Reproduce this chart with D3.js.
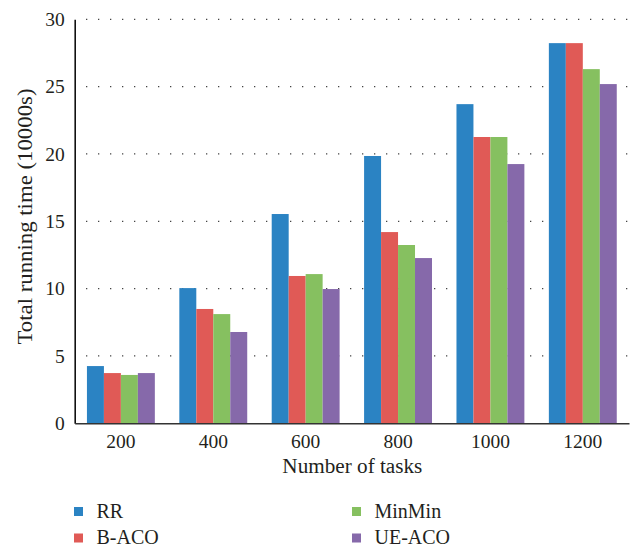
<!DOCTYPE html>
<html>
<head>
<meta charset="utf-8">
<script src="https://cdn.jsdelivr.net/npm/d3@7"></script>
<style>
  html, body { margin: 0; padding: 0; background: #fff; }
  svg { display: block; }
  text { font-family: "Liberation Serif", "DejaVu Serif", serif; fill: #231f20; }
</style>
</head>
<body>
<svg id="chart" width="637" height="549"></svg>
<script>
const categories = ["200", "400", "600", "800", "1000", "1200"];
const seriesNames = ["RR", "B-ACO", "MinMin", "UE-ACO"];
const rrValues     = [4.25, 10.04, 15.54, 19.85, 23.70, 28.23];
const bacoValues   = [3.73, 8.49, 10.94, 14.20, 21.26, 28.23];
const minminValues = [3.59, 8.11, 11.08, 13.24, 21.26, 26.30];
const ueacoValues  = [3.73, 6.78, 9.97, 12.27, 19.25, 25.19];
const yTicks = [0, 5, 10, 15, 20, 25, 30];
const colors = ["#2b83c3", "#e05a56", "#86c060", "#8669aa"];

const seriesValues = [rrValues, bacoValues, minminValues, ueacoValues];

const svg = d3.select("#chart");
const plotLeft = 74.7, plotRight = 629, plotTop = 19.3, plotBottom = 423.3;

const x0 = d3.scaleBand().domain(categories).range([plotLeft, plotRight])
  .paddingInner(0.265).paddingOuter(0.1325);
const x1 = d3.scaleBand().domain(seriesNames).range([0, x0.bandwidth()]);
const y = d3.scaleLinear().domain([0, 30]).range([plotBottom, plotTop]);

// gridlines (dotted)
svg.append("g").selectAll("line").data(yTicks.filter(d => d > 0)).join("line")
  .attr("x1", 86).attr("x2", plotRight)
  .attr("y1", d => y(d)).attr("y2", d => y(d))
  .attr("stroke", "#444").attr("stroke-width", 1.3)
  .attr("stroke-dasharray", "1.3,10.7");

// bars
const groups = svg.append("g").selectAll("g").data(categories).join("g")
  .attr("transform", d => `translate(${x0(d)},0)`);
groups.selectAll("rect")
  .data((c, i) => seriesNames.map((s, j) => ({ s, j, v: seriesValues[j][i] })))
  .join("rect")
  .attr("x", d => x1(d.s))
  .attr("width", x1.bandwidth())
  .attr("y", d => y(d.v))
  .attr("height", d => y(0) - y(d.v))
  .attr("fill", d => colors[d.j]);

// y axis
const yAxis = svg.append("g").attr("transform", `translate(${plotLeft},0)`)
  .call(d3.axisLeft(y).tickValues(yTicks).tickSize(0).tickPadding(10));
yAxis.select(".domain").attr("stroke", "#111").attr("stroke-width", 1.6);
yAxis.selectAll("text").attr("font-size", 19.5).attr("font-family", null).attr("fill", "#231f20");

// x axis
const xAxis = svg.append("g").attr("transform", `translate(0,${plotBottom})`)
  .call(d3.axisBottom(x0).tickSize(0).tickPadding(11));
xAxis.select(".domain").attr("stroke", "#333").attr("stroke-width", 1.6);
xAxis.selectAll("text").attr("font-size", 19.5).attr("font-family", null).attr("fill", "#231f20");

// axis titles
svg.append("text").attr("x", (plotLeft + plotRight) / 2 + 0.5).attr("y", 473)
  .attr("text-anchor", "middle").attr("font-size", 20)
  .attr("textLength", 140).attr("lengthAdjust", "spacingAndGlyphs")
  .text("Number of tasks");
svg.append("text")
  .attr("transform", `translate(32,${(88 + 345) / 2}) rotate(-90)`)
  .attr("text-anchor", "middle").attr("font-size", 20)
  .attr("textLength", 256).attr("lengthAdjust", "spacingAndGlyphs")
  .text("Total running time (10000s)");

// legend
const legendPos = [[74, 511.5], [74, 538], [352, 511.5], [352, 538]];
const legendOrder = [0, 1, 2, 3];
const lg = svg.append("g").selectAll("g").data(legendOrder).join("g")
  .attr("transform", d => `translate(${legendPos[d][0]},${legendPos[d][1]})`);
lg.append("rect").attr("x", 0).attr("y", -4.5).attr("width", 9).attr("height", 9)
  .attr("fill", d => colors[d]);
lg.append("text").attr("x", 22.5).attr("y", 6.3).attr("font-size", 20)
  .text(d => seriesNames[d]);
</script>
</body>
</html>
